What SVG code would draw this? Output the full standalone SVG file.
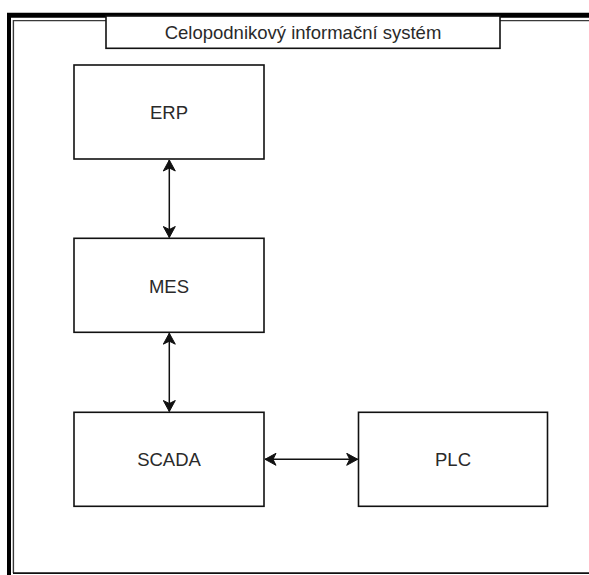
<svg xmlns="http://www.w3.org/2000/svg" width="589" height="575" viewBox="0 0 589 575">
  <style>
    .box { fill: #ffffff; stroke: #111111; stroke-width: 1.6; }
    .label { font-family: "Liberation Sans", Arial, sans-serif; font-size: 18.5px; fill: #2a2a2a; text-anchor: middle; }
    .link { fill: none; stroke: #111111; stroke-width: 1.5; marker-start: url(#arrow); marker-end: url(#arrow); }
  </style>
  <defs>
    <marker id="arrow" markerUnits="userSpaceOnUse" markerWidth="12" markerHeight="13" viewBox="0 0 12 13" refX="11.5" refY="6.5" orient="auto-start-reverse">
      <path d="M0.5,0.5 L11.5,6.5 L0.5,12.5 L3.5,6.5 Z" fill="#111111" stroke="#111111" stroke-width="1" stroke-linejoin="miter"/>
    </marker>
  </defs>

  <rect x="0" y="0" width="589" height="575" fill="#ffffff"/>

  <!-- enterprise system frame: heavy outer rule with a thin inner rule -->
  <g id="frame">
    <path d="M9,575 V15.3" fill="none" stroke="#000000" stroke-width="4"/>
    <path d="M7,15.3 H589" fill="none" stroke="#000000" stroke-width="5"/>
    <path d="M13.4,573 V20.6 H589" fill="none" stroke="#3a3a3a" stroke-width="1.4"/>
    <path d="M13,573.2 H589" fill="none" stroke="#111111" stroke-width="1.8"/>
  </g>

  <g id="title">
    <rect class="box" x="106" y="16" width="394" height="32.3"/>
    <text class="label" x="303" y="39.3">Celopodnikový informační systém</text>
  </g>

  <g id="erp">
    <rect class="box" x="74" y="65" width="190" height="94"/>
    <text class="label" x="169" y="119">ERP</text>
  </g>

  <g id="mes">
    <rect class="box" x="74" y="238.3" width="190" height="94"/>
    <text class="label" x="169" y="292.5">MES</text>
  </g>

  <g id="scada">
    <rect class="box" x="74" y="412.3" width="190" height="94"/>
    <text class="label" x="169" y="466">SCADA</text>
  </g>

  <g id="plc">
    <rect class="box" x="358.5" y="412.3" width="189" height="94"/>
    <text class="label" x="453" y="466">PLC</text>
  </g>

  <g id="connectors">
    <path class="link" d="M169.3,160 V237.5"/>
    <path class="link" d="M169.3,333.2 V411.5"/>
    <path class="link" d="M265,459.3 H357.7"/>
  </g>
</svg>
